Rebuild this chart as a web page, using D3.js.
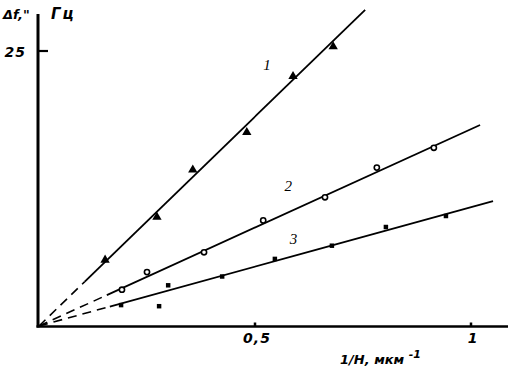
<!DOCTYPE html>
<html>
<head>
<meta charset="utf-8">
<script src="https://cdn.jsdelivr.net/npm/d3@7"></script>
<style>
    html, body { margin: 0; padding: 0; background: #fff; }
    svg text { font-family: "DejaVu Sans", "Liberation Sans", Arial, sans-serif; font-weight: bold; font-style: italic; fill: #000; }
    svg text.curve-label { font-family: "Liberation Serif", "Times New Roman", serif; font-weight: normal; }
</style>
</head>
<body>
<svg id="chart" width="520" height="369"></svg>
<script>
(function () {
    const WIDTH = 520;
    const HEIGHT = 369;

    // series 1 — triangles
    const series1X = [0.153, 0.273, 0.356, 0.481, 0.588, 0.681];
    const series1Y = [6.0, 9.9, 14.2, 17.6, 22.7, 25.4];
    // series 2 — open circles
    const series2X = [0.192, 0.250, 0.382, 0.519, 0.662, 0.782, 0.914];
    const series2Y = [3.3, 4.9, 6.7, 9.6, 11.7, 14.4, 16.2];
    // series 3 — small filled dots
    const series3X = [0.190, 0.278, 0.299, 0.424, 0.546, 0.678, 0.803, 0.942];
    const series3Y = [1.9, 1.8, 3.7, 4.5, 6.1, 7.3, 9.0, 10.0];

    // fitted straight lines through the origin
    const fitNames = ['1', '2', '3'];
    const fitSlopes = [38.07, 17.9, 10.8];
    const fitSolidFrom = [0.106, 0.157, 0.164];
    const fitEnd = [0.755, 1.021, 1.051];
    const labelX = [0.528, 0.577, 0.589];
    const labelY = [23.3, 12.3, 7.5];

    const xTicks = [0.5, 1];
    const xTickLabels = ['0,5', '1'];
    const yTicks = [25];

    const x = d3.scaleLinear().domain([0, 1]).range([39, 471]);
    const y = d3.scaleLinear().domain([0, 25]).range([326, 51]);

    const svg = d3.select('#chart')
        .attr('viewBox', `0 0 ${WIDTH} ${HEIGHT}`);

    // fitted lines: dashed part near origin, solid part after
    const g = svg.append('g').attr('class', 'fits');
    fitSlopes.forEach((k, i) => {
        g.append('line')
            .attr('x1', x(0)).attr('y1', y(0))
            .attr('x2', x(fitSolidFrom[i])).attr('y2', y(k * fitSolidFrom[i]))
            .attr('stroke', '#000')
            .attr('stroke-width', 1.6)
            .attr('stroke-dasharray', '9,6');
        g.append('line')
            .attr('x1', x(fitSolidFrom[i])).attr('y1', y(k * fitSolidFrom[i]))
            .attr('x2', x(fitEnd[i])).attr('y2', y(k * fitEnd[i]))
            .attr('stroke', '#000')
            .attr('stroke-width', 1.8);
        g.append('text')
            .attr('class', 'curve-label')
            .attr('x', x(labelX[i]))
            .attr('y', y(labelY[i]))
            .attr('font-size', 15)
            .attr('font-weight', 'bold')
            .attr('text-anchor', 'middle')
            .text(fitNames[i]);
    });

    // axes
    const axes = svg.append('g').attr('class', 'axes');
    axes.append('line')
        .attr('x1', 38).attr('x2', 38)
        .attr('y1', 14).attr('y2', 327.5)
        .attr('stroke', '#000').attr('stroke-width', 3);
    axes.append('line')
        .attr('x1', 36.5).attr('x2', 508)
        .attr('y1', 326.5).attr('y2', 326.5)
        .attr('stroke', '#000').attr('stroke-width', 2.5);

    yTicks.forEach(t => {
        axes.append('line')
            .attr('x1', 38).attr('x2', 48)
            .attr('y1', y(t)).attr('y2', y(t))
            .attr('stroke', '#000').attr('stroke-width', 2.2);
        axes.append('text')
            .attr('x', 26).attr('y', y(t) + 5.5)
            .attr('font-size', 14)
            .attr('letter-spacing', 1)
            .attr('text-anchor', 'end')
            .text(t);
    });

    xTicks.forEach((t, i) => {
        axes.append('line')
            .attr('x1', x(t)).attr('x2', x(t))
            .attr('y1', 322.5).attr('y2', 326)
            .attr('stroke', '#000').attr('stroke-width', 2.5);
        axes.append('text')
            .attr('x', x(t) + 2).attr('y', 343)
            .attr('font-size', 14)
            .attr('letter-spacing', 1)
            .attr('text-anchor', 'middle')
            .text(xTickLabels[i]);
    });

    // axis titles
    const yTitle = svg.append('text').attr('x', 3).attr('y', 19).attr('font-size', 13);
    yTitle.append('tspan').text('\u0394f,"');
    yTitle.append('tspan').attr('x', 51).attr('font-size', 15).attr('letter-spacing', 2).text('\u0413\u0446');

    const xTitle = svg.append('text').attr('x', 340).attr('y', 364).attr('font-size', 13);
    xTitle.append('tspan').text('1/H,  \u043c\u043a\u043c ');
    xTitle.append('tspan').attr('dy', -6).attr('font-size', 11).text('-1');

    // markers
    const tri = d3.symbol().type(d3.symbolTriangle).size(38);
    svg.append('g').selectAll('path')
        .data(d3.zip(series1X, series1Y))
        .join('path')
        .attr('d', tri)
        .attr('transform', d => `translate(${x(d[0])},${y(d[1])})`)
        .attr('fill', '#000');

    svg.append('g').selectAll('circle')
        .data(d3.zip(series2X, series2Y))
        .join('circle')
        .attr('cx', d => x(d[0]))
        .attr('cy', d => y(d[1]))
        .attr('r', 2.6)
        .attr('fill', '#fff')
        .attr('stroke', '#000')
        .attr('stroke-width', 1.6);

    const sq = d3.symbol().type(d3.symbolSquare).size(20);
    svg.append('g').selectAll('path')
        .data(d3.zip(series3X, series3Y))
        .join('path')
        .attr('d', sq)
        .attr('transform', d => `translate(${x(d[0])},${y(d[1])})`)
        .attr('fill', '#000');
})();
</script>
</body>
</html>
